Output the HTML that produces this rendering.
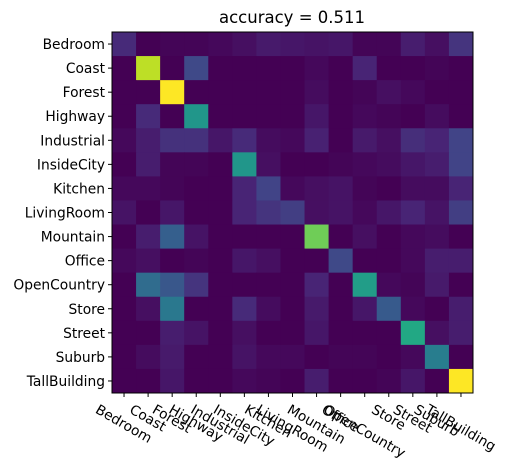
<!DOCTYPE html>
<html><head><meta charset="utf-8"><style>
body{margin:0;background:#fff}
svg{display:block;font-family:"DejaVu Sans","Liberation Sans",sans-serif}
</style></head><body>
<svg id="chart" width="507" height="470" viewBox="0 0 507 470">
<text x="292" y="23" text-anchor="middle" font-size="16.5">accuracy = 0.511</text>
<g id="cells"></g>
<rect x="112" y="32" width="361" height="361" fill="none" stroke="#000" stroke-width="1"/>
<g id="axes"></g>
</svg>
<script>
const categories=["Bedroom","Coast","Forest","Highway","Industrial","InsideCity","Kitchen","LivingRoom","Mountain","Office","OpenCountry","Store","Street","Suburb","TallBuilding"];
const row0=[0.12,0,0.01,0.01,0.02,0.04,0.07,0.06,0.05,0.06,0.01,0.01,0.08,0.04,0.15];
const row1=[0,0.9,0,0.22,0,0,0,0,0.02,0,0.1,0,0,0.01,0];
const row2=[0,0,1,0,0,0,0,0,0.03,0,0.01,0.04,0.02,0,0];
const row3=[0,0.12,0,0.52,0,0,0,0,0.06,0,0.02,0.01,0,0.03,0];
const row4=[0.02,0.08,0.14,0.14,0.06,0.12,0.03,0.02,0.09,0,0.07,0.04,0.13,0.1,0.2];
const row5=[0,0.08,0.01,0.01,0,0.52,0.04,0,0,0.01,0.02,0.03,0.06,0.08,0.2];
const row6=[0.02,0.02,0.01,0,0,0.1,0.2,0.02,0.04,0.05,0.01,0,0.03,0.03,0.1];
const row7=[0.05,0,0.06,0,0,0.1,0.15,0.18,0.04,0.05,0.02,0.06,0.1,0.05,0.18];
const row8=[0,0.08,0.3,0.05,0,0,0,0,0.78,0,0.04,0,0.02,0.03,0];
const row9=[0.02,0.04,0,0.01,0,0.06,0.04,0,0,0.22,0,0,0.02,0.08,0.08];
const row10=[0,0.35,0.27,0.15,0,0,0,0,0.1,0,0.55,0.02,0.01,0.07,0];
const row11=[0,0.04,0.4,0,0,0.12,0.03,0,0.07,0,0.06,0.28,0.02,0,0.08];
const row12=[0,0,0.08,0.05,0,0.04,0,0,0.06,0,0,0,0.6,0.04,0.08];
const row13=[0,0.03,0.07,0,0,0.05,0.02,0.02,0,0.01,0.01,0,0.02,0.42,0];
const row14=[0,0,0.06,0,0,0.02,0.01,0,0.08,0,0,0.01,0.06,0,1];
const matrix=[row0,row1,row2,row3,row4,row5,row6,row7,row8,row9,row10,row11,row12,row13,row14];

const NS="http://www.w3.org/2000/svg";
const X0=112,Y0=32,W=361,H=361,n=categories.length,cw=W/n,ch=H/n;
const xPos=i=>X0+i*cw, yPos=j=>Y0+j*ch;
const stops=[[68,1,84],[72,36,117],[65,68,135],[53,95,141],[42,120,142],[33,145,140],[34,168,132],[68,191,112],[122,209,81],[189,223,38],[253,231,37]];
function viridis(t){t=Math.max(0,Math.min(1,t));const p=t*10,i=Math.min(9,Math.floor(p)),f=p-i;const a=stops[i],b=stops[i+1];return `rgb(${a.map((v,k)=>Math.round(v+(b[k]-v)*f)).join(",")})`;}
let mx=0;matrix.forEach(r=>r.forEach(v=>{if(v>mx)mx=v;}));
const cells=document.getElementById('cells');
matrix.forEach((r,j)=>r.forEach((v,i)=>{
 const rc=document.createElementNS(NS,'rect');
 rc.setAttribute('x',xPos(i));rc.setAttribute('y',yPos(j));
 rc.setAttribute('width',cw+0.5);rc.setAttribute('height',ch+0.5);
 rc.setAttribute('fill',viridis(v/mx));
 
 
 cells.appendChild(rc);
}));
const axes=document.getElementById('axes');
const FS=13.8, s30=0.5, c30=Math.cos(Math.PI/6);
categories.forEach((c,k)=>{
 const ty=yPos(k)+ch/2;
 const l=document.createElementNS(NS,'line');
 l.setAttribute('x1',X0-4);l.setAttribute('x2',X0);l.setAttribute('y1',ty);l.setAttribute('y2',ty);l.setAttribute('stroke','#000');
 
 
 axes.appendChild(l);
 const t=document.createElementNS(NS,'text');
 t.setAttribute('x',X0-7);t.setAttribute('y',ty+5);t.setAttribute('text-anchor','end');t.setAttribute('font-size',FS);
 t.textContent=c;
 
 
 axes.appendChild(t);
 const tx=xPos(k)+cw/2;
 const l2=document.createElementNS(NS,'line');
 l2.setAttribute('x1',tx);l2.setAttribute('x2',tx);l2.setAttribute('y1',Y0+H);l2.setAttribute('y2',Y0+H+4);l2.setAttribute('stroke','#000');
 
 
 axes.appendChild(l2);
 const t2=document.createElementNS(NS,'text');
 t2.setAttribute('text-anchor','middle');t2.setAttribute('y','5');t2.setAttribute('font-size',FS);
 t2.textContent=c;
 
 
 axes.appendChild(t2);
 const w=t2.getComputedTextLength(), h=FS*1.15;
 const cy=Y0+H+8+(w*s30+h*c30)/2;
 t2.setAttribute('transform',`translate(${tx},${cy}) rotate(30)`);
});
</script>
</body></html>
